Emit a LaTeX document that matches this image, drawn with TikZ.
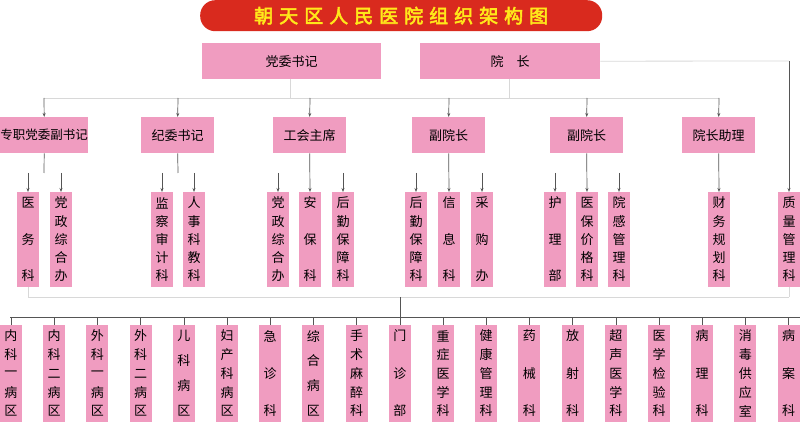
\documentclass[tikz,border=0pt]{standalone}
\usepackage{fontspec}
\setmainfont{Noto Sans CJK SC}
\newfontfamily\cjkb[FakeBold=3]{Noto Sans CJK SC}
\usetikzlibrary{arrows.meta}
\definecolor{pk}{HTML}{F09CC0}
\definecolor{rd}{HTML}{D92A1E}
\definecolor{yl}{HTML}{FFE81A}
\definecolor{ln}{HTML}{555555}
\definecolor{lt}{HTML}{D8D8D8}
\tikzset{box/.style={fill=pk,draw=none,inner sep=0pt,font=\fontsize{13}{13}\selectfont},
 ch/.style={inner sep=0pt,font=\fontsize{13}{13}\selectfont},
 arr/.style={draw=ln,line width=0.7pt,-{Stealth[length=4pt,width=3pt]}},
 lnk/.style={draw=ln,line width=0.7pt},
 lnl/.style={draw=lt,line width=0.8pt}}
\newcommand\colbox[6]{%
 \node[box,minimum width=22pt,minimum height={(#4-#3)*1pt},anchor=north] (#1) at (#2,#3) {};
 \edef\mylist{#6}%
 \foreach \c [count=\i] in \mylist {\node[ch] at (#2,{#3+11+(\i-1)*(#4-#3-22)/(#5-1)}) {\c};}
}
\begin{document}
\begin{tikzpicture}[x=1pt,y=-1pt]
\useasboundingbox (0,0) rectangle (800,422);
% title
\node[fill=rd,rounded corners=15pt,minimum width=402pt,minimum height=31pt,inner sep=0pt,anchor=north west,text=yl,font=\cjkb\fontsize{19}{19}\selectfont] (title) at (200,0) {朝\hspace{6pt}天\hspace{6pt}区\hspace{6pt}人\hspace{6pt}民\hspace{6pt}医\hspace{6pt}院\hspace{6pt}组\hspace{6pt}织\hspace{6pt}架\hspace{6pt}构\hspace{6pt}图};
% level 1
\node[box,minimum width=179pt,minimum height=36pt,anchor=north west] (dw) at (202,43) {党委书记};
\node[box,minimum width=180pt,minimum height=36pt,anchor=north west] (yz) at (420,43) {院\quad 长};
% level 2
\node[box,minimum width=88pt,minimum height=36pt,anchor=north west,font=\fontsize{12.5}{12.5}\selectfont] (zz) at (0,117) {专职党委副书记};
\node[box,minimum width=73pt,minimum height=36pt,anchor=north west] (jw) at (141,117) {纪委书记};
\node[box,minimum width=73pt,minimum height=36pt,anchor=north west] (gh) at (273,117) {工会主席};
\node[box,minimum width=73pt,minimum height=36pt,anchor=north west] (fa) at (412,117) {副院长};
\node[box,minimum width=73pt,minimum height=36pt,anchor=north west] (fb) at (550,117) {副院长};
\node[box,minimum width=73pt,minimum height=36pt,anchor=north west] (zl) at (682,117) {院长助理};
% connectors level1->2
\coordinate (h1) at (290,98); \coordinate (h2) at (509,98);
\draw[lnl] (dw.south -| h1) -- (h1);
\draw[lnl] (yz.south -| h2) -- (h2);
\draw[lnl] (44,98) -- (719,98);
\foreach \n/\x in {zz/44,jw/178,gh/310,fa/449,fb/587,zl/719}{\draw[arr] (\x,98) -- (\n.north);}
% level 3
\colbox{a1}{28}{192}{287}{3}{医,务,科}
\colbox{a2}{61}{192}{287}{5}{党,政,综,合,办}
\colbox{b1}{162}{192}{287}{5}{监,察,审,计,科}
\colbox{b2}{194}{192}{287}{5}{人,事,科,教,科}
\colbox{c1}{278}{192}{287}{5}{党,政,综,合,办}
\colbox{c2}{310}{192}{287}{3}{安,保,科}
\colbox{c3}{343}{192}{287}{5}{后,勤,保,障,科}
\colbox{d1}{416}{192}{287}{5}{后,勤,保,障,科}
\colbox{d2}{449}{192}{287}{3}{信,息,科}
\colbox{d3}{482}{192}{287}{3}{采,购,办}
\colbox{e1}{555}{192}{287}{3}{护,理,部}
\colbox{e2}{587}{192}{287}{5}{医,保,价,格,科}
\colbox{e3}{619}{192}{287}{5}{院,感,管,理,科}
\colbox{f1}{719}{192}{287}{5}{财,务,规,划,科}
\colbox{q1}{789}{192}{287}{5}{质,量,管,理,科}
% connectors level2->3
\draw[lnk] (zz.south) -- (44,173);
\foreach \n in {a1,a2}{\draw[arr] (\n.north |- 0,173) -- (\n.north);}
\draw[lnk] (jw.south) -- (178,173);
\foreach \n in {b1,b2}{\draw[arr] (\n.north |- 0,173) -- (\n.north);}
\draw[arr] (gh.south) -- (c2.north);
\foreach \n in {c1,c3}{\draw[arr] (\n.north |- 0,173) -- (\n.north);}
\draw[arr] (fa.south) -- (d2.north);
\foreach \n in {d1,d3}{\draw[arr] (\n.north |- 0,173) -- (\n.north);}
\draw[arr] (fb.south) -- (e2.north);
\foreach \n in {e1,e3}{\draw[arr] (\n.north |- 0,173) -- (\n.north);}
\draw[arr] (zl.south) -- (f1.north);
\draw[draw=lt,line width=0.8pt] (yz.east) -- (789,61);
\draw[arr] (789,61) -- (q1.north);
% bottom row
\draw[lnl] (a1.south) -- (28,297) -- (789,297);
\draw[lnl] (q1.south) -- (789,297);
\draw[lnk] (400,297) -- (400,317);
\draw[draw=ln,line width=0.6pt] (10,317) -- (800,317);
\foreach \t/\n [count=\k from 0] in {{内,科,一,病,区}/5,{内,科,二,病,区}/5,{外,科,一,病,区}/5,{外,科,二,病,区}/5,{儿,科,病,区}/4,{妇,产,科,病,区}/5,{急,诊,科}/3,{综,合,病,区}/4,{手,术,麻,醉,科}/5,{门,诊,部}/3,{重,症,医,学,科}/5,{健,康,管,理,科}/5,{药,械,科}/3,{放,射,科}/3,{超,声,医,学,科}/5,{医,学,检,验,科}/5,{病,理,科}/3,{消,毒,供,应,室}/5,{病,案,科}/3}{
 \pgfmathsetmacro\cx{11+43.2*\k}
 \colbox{g\k}{\cx}{325}{422}{\n}{\t}
 \draw[draw=ln,line width=0.6pt] (\cx,317) -- (g\k.north);
}
\end{tikzpicture}
\end{document}
